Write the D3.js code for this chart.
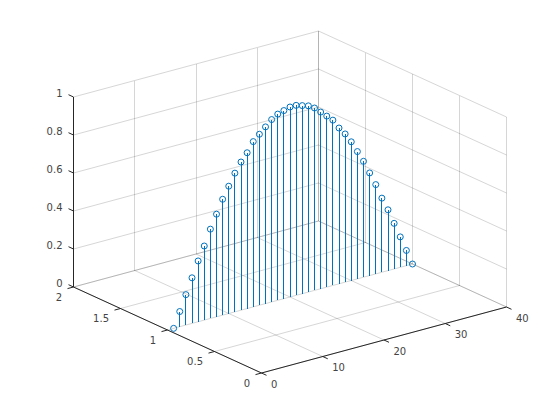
<!DOCTYPE html>
<html>
<head>
<meta charset="utf-8">
<script src="https://cdn.jsdelivr.net/npm/d3@7"></script>
<style>html,body{margin:0;padding:0;background:#fff}svg{display:block}text{font-family:"DejaVu Sans",sans-serif;font-size:10px;fill:#444}</style>
</head>
<body>
<svg id="c" width="560" height="420"></svg>
<script>
const xValues = [1,2,3,4,5,6,7,8,9,10,11,12,13,14,15,16,17,18,19,20,21,22,23,24,25,26,27,28,29,30,31,32,33,34,35,36,37,38,39,40];
const yValue = 1;
const zValues = [0,.08,.16,.24,.32,.39,.47,.54,.61,.67,.73,.78,.82,.87,.90,.93,.96,.98,.99,1,1,.99,.98,.96,.93,.90,.87,.82,.78,.73,.67,.61,.54,.47,.39,.32,.24,.16,.08,0];
const xTicks = [0,10,20,30,40];
const yTicks = [0,0.5,1,1.5,2];
const zTicks = [0,0.2,0.4,0.6,0.8,1];

// oblique projection: each data axis contributes a screen offset
const xToPx = d3.scaleLinear().domain([0,40]).range([261.5,506.5]);
const xToPy = d3.scaleLinear().domain([0,40]).range([373,307]);
const yToPx = d3.scaleLinear().domain([0,2]).range([0,-188]);
const yToPy = d3.scaleLinear().domain([0,2]).range([0,-86]);
const zToPy = d3.scaleLinear().domain([0,1]).range([0,-190]);
const P = (x,y,z) => [xToPx(x)+yToPx(y), xToPy(x)+yToPy(y)+zToPy(z)];

const svg = d3.select("#c");
const seg = (g,a,b,stroke,w,crisp) => g.append("line")
  .attr("x1",a[0]).attr("y1",a[1]).attr("x2",b[0]).attr("y2",b[1])
  .attr("stroke",stroke).attr("stroke-width",w)
  .attr("shape-rendering",crisp?"crispEdges":"auto");

// grid
const grid = svg.append("g").attr("stroke-opacity",0.19);
const gc = "#262626";
xTicks.forEach(x=>{
  seg(grid,P(x,0,0),P(x,2,0),gc,1);
  seg(grid,P(x,2,0),P(x,2,1),gc,1,true);
});
yTicks.forEach(y=>{
  seg(grid,P(0,y,0),P(40,y,0),gc,1);
  seg(grid,P(40,y,0),P(40,y,1),gc,1,true);
});
zTicks.forEach(z=>{
  seg(grid,P(0,2,z),P(40,2,z),gc,1);
  seg(grid,P(40,2,z),P(40,0,z),gc,1);
});

// stems and markers
const blue = "#0072BD";
const data = d3.zip(xValues,zValues);
svg.append("g").selectAll("line").data(data).join("line")
  .attr("x1",d=>P(d[0],yValue,0)[0]).attr("y1",d=>P(d[0],yValue,0)[1])
  .attr("x2",d=>P(d[0],yValue,d[1])[0]).attr("y2",d=>P(d[0],yValue,d[1])[1])
  .attr("stroke",blue).attr("stroke-width",1).attr("shape-rendering","crispEdges");
svg.append("g").selectAll("circle").data(data).join("circle")
  .attr("cx",d=>P(d[0],yValue,d[1])[0]).attr("cy",d=>P(d[0],yValue,d[1])[1])
  .attr("r",3).attr("fill","none").attr("stroke",blue).attr("stroke-width",1);

// axes
const ax = svg.append("g");
const ink = "#262626";
seg(ax,P(0,0,0),P(40,0,0),ink,1);
seg(ax,P(0,0,0),P(0,2,0),ink,1);
seg(ax,P(0,2,0),P(0,2,1),ink,1,true);
const addText = (p,t,anchor) => ax.append("text").attr("x",p[0]).attr("y",p[1])
  .attr("text-anchor",anchor).attr("dominant-baseline","central").text(t);
xTicks.forEach(x=>{
  const p=P(x,0,0);
  seg(ax,p,[p[0]+5,p[1]+2.3],ink,1);
  addText([p[0]+9.5,p[1]+11],String(x),"start");
});
yTicks.forEach(y=>{
  const p=P(0,y,0);
  seg(ax,p,[p[0]-6,p[1]+1.6],ink,1);
  addText([p[0]-11.5,p[1]+10],String(y),"end");
});
zTicks.forEach(z=>{
  const p=P(0,2,z);
  seg(ax,p,[p[0]-5,p[1]-2.3],ink,1);
  addText([p[0]-11,p[1]-4],String(z),"end");
});
</script>
</body>
</html>
